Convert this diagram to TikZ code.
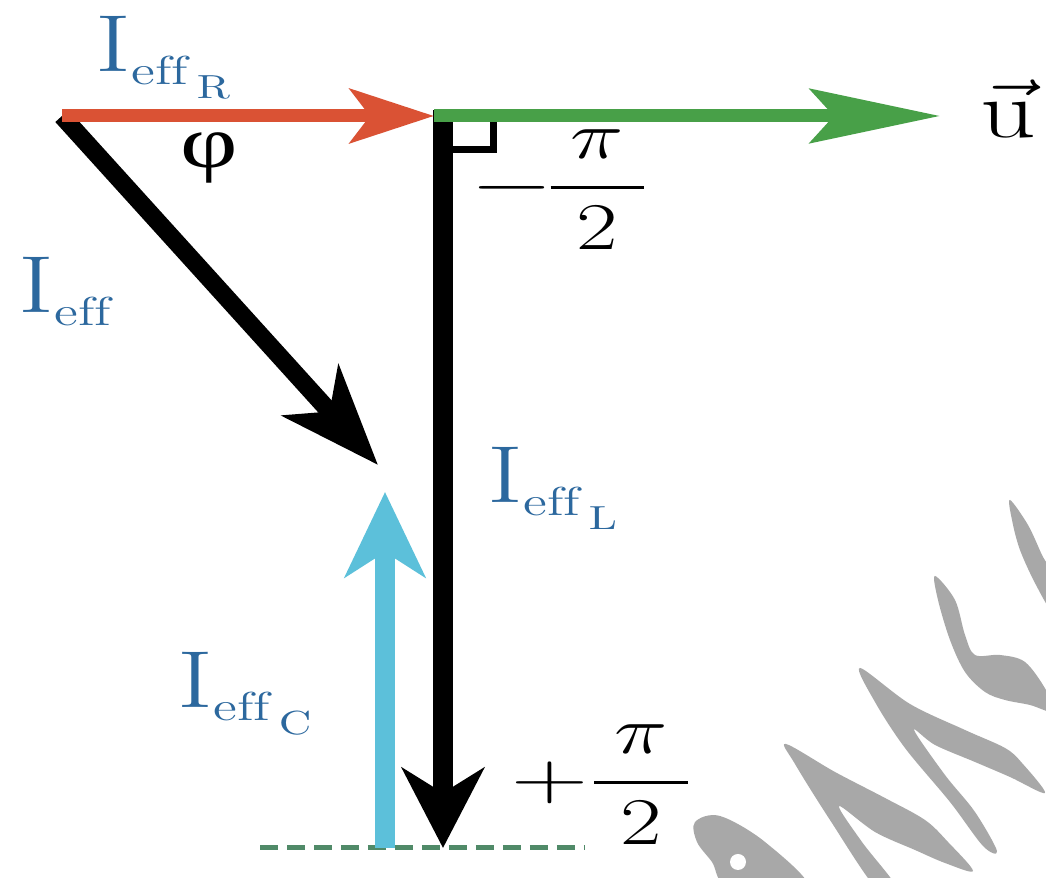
\RequirePackage{fix-cm}
\documentclass[tikz,border=0pt]{standalone}
\usepackage{amsmath, graphicx}
\usepackage{fontspec}
\newfontfamily\phifont{Liberation Serif}
\usetikzlibrary{arrows.meta}
\DeclareMathSizes{23}{23}{11.5}{9.5}
\definecolor{ieffblue}{RGB}{44,104,158}
\definecolor{vecred}{RGB}{218,82,52}
\definecolor{vecgreen}{RGB}{72,160,72}
\definecolor{veccyan}{RGB}{92,192,218}
\definecolor{dashgreen}{RGB}{80,138,104}
\definecolor{markgrey}{RGB}{168,168,168}
\tikzstyle{redvec}=[draw=vecred, line width=1.3mm, -{Stealth[length=8.4mm, width=5.4mm, inset=2mm]}]
\tikzstyle{greenvec}=[draw=vecgreen, line width=1.3mm, -{Stealth[length=13mm, width=5.4mm, inset=2.4mm]}]
\tikzstyle{blackvec}=[draw=black, line width=2mm, -{Stealth[length=8mm, width=8.2mm, inset=2.5mm]}]
\tikzstyle{diagvec}=[draw=black, line width=1.8mm, -{Stealth[length=10mm, width=7.5mm, inset=2.8mm]}]
\tikzstyle{cyanvec}=[draw=veccyan, line width=2mm, -{Stealth[length=8.5mm, width=8mm, inset=2.5mm]}]
\tikzstyle{ieff}=[inner sep=0pt, anchor=base west, text=ieffblue, font=\fontsize{23}{27}\selectfont]
\tikzstyle{angle}=[inner sep=0pt, anchor=west, font=\fontsize{19}{23}\selectfont]
\tikzstyle{swoosh}=[markgrey, smooth cycle, tension=0.55]
\newcommand{\wide}[1]{\scalebox{1.35}[1]{#1}}
\newcommand{\Icur}[1]{\mathrm{I}_{\mathrm{eff}\,\lower4pt\hbox{$\scriptscriptstyle\mathrm{#1}$}}}
\newcommand{\halfpi}{\dfrac{\mkern4mu\pi\mkern4mu}{2}}
\begin{document}
\begin{tikzpicture}[x=0.1mm, y=-0.1mm]
\fill[white] (0,0) rectangle (1046,878);
\useasboundingbox (0,0) rectangle (1046,878);

% watermark
\begin{scope}
\clip (0,0) rectangle (1046,878);
\fill[markgrey] plot[swoosh] coordinates {(1010,500) (1028,525) (1042,555) (1052,575) (1052,610) (1036,585) (1020,550) (1012,520)};
\fill[markgrey] plot[swoosh] coordinates {(935,576) (955,600) (965,635) (975,655) (1000,655) (1025,662) (1046,690) (1054,712) (1030,705) (1005,700) (985,692) (965,672) (950,640) (938,600)};
\fill[markgrey] plot[swoosh] coordinates {(860,668) (910,704) (965,730) (1005,748) (1022,763) (1045,793) (1010,777) (975,762) (935,745) (914,730) (945,775) (975,812) (997,851) (983,846) (950,802) (905,748) (875,702)};
\fill[markgrey] plot[swoosh] coordinates {(786,744) (835,772) (885,798) (925,820) (948,842) (973,871) (945,863) (915,850) (875,832) (839,806) (862,842) (897,888) (876,888) (830,820) (795,764)};
\fill[markgrey] plot[swoosh] coordinates {(695,822) (720,816) (765,842) (808,888) (730,888) (712,862) (697,842)};
\fill[white] (738,862) circle (8);
\end{scope}

\coordinate (o) at (62,116);
\coordinate (r) at (434,116);
\coordinate (u) at (940,116);
\coordinate (t) at (443,110);
\coordinate (b) at (443,848);
\coordinate (i) at (378,465);
\coordinate (cb) at (385,848);
\coordinate (ct) at (385,492);
\coordinate (dl) at (260,848);
\coordinate (dr) at (585,848);

\draw[dashgreen, line width=0.5mm, dash pattern=on 1.8mm off 0.9mm] (dl) -- (dr);
\draw[cyanvec] (cb) -- (ct);
\draw[blackvec] (t) -- (b);
\draw[diagvec] (o) -- (i);
\draw[line width=0.7mm] (453,150) -| (493,122);
\draw[greenvec] (r) -- (u);
\draw[redvec] (o) -- (r);

\node[ieff] (lr) at (95,72) {\wide{$\Icur{R}$}};
\node[ieff] (li) at (18,313) {\wide{$\mathrm{I}_{\mathrm{eff}}$}};
\node[ieff] (ll) at (487,503) {\wide{$\Icur{L}$}};
\node[ieff] (lc) at (177,708) {\wide{$\Icur{C}$}};
\node[inner sep=0pt, font=\fontsize{21}{25}\selectfont] (phi) at (209,158) {\wide{\phifont φ}};
\node[angle] (m) at (470,190) {\scalebox{1.6}[1]{$-$}\hspace{-2.5pt}\wide{$\halfpi$}};
\node[angle] (p) at (511,785) {\scalebox{1.6}[1]{$+$}\wide{$\halfpi$}};
\node[inner sep=0pt, anchor=base west, font=\fontsize{23}{27}\selectfont] (uv) at (980,138) {\wide{$\vec{\mathrm{u}}$}};
\end{tikzpicture}
\end{document}
